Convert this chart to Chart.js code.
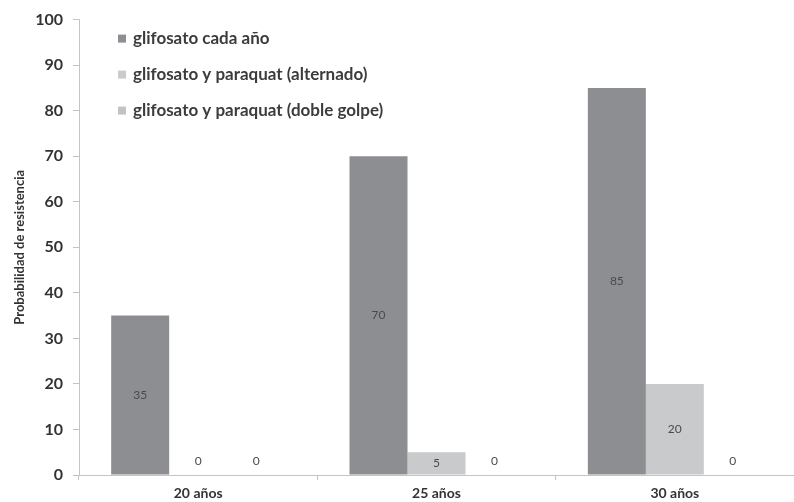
<!DOCTYPE html>
<html>
<head>
<meta charset="utf-8">
<script src="https://cdn.jsdelivr.net/npm/chart.js@4.4.1/dist/chart.umd.min.js"></script>
<style>
  html, body { margin: 0; padding: 0; background: #fff; overflow: hidden; }
  #wrap { width: 794px; height: 502px; }
</style>
</head>
<body>
<div id="wrap"><canvas id="c" width="794" height="502"></canvas></div>
<script>
// Categories and series
const categories = ['20 años', '25 años', '30 años'];
const seriesNames = [
  'glifosato cada año',
  'glifosato y paraquat (alternado)',
  'glifosato y paraquat (doble golpe)'
];
const cadaAno = [35, 70, 85];
const alternado = [0, 5, 20];
const dobleGolpe = [0, 0, 0];
const yTicks = [0, 10, 20, 30, 40, 50, 60, 70, 80, 90, 100];

const barColors = ['#8d8e92', '#c9cacc', '#c2c3c5'];
const FONT = 'Lato, "Open Sans", sans-serif';

// Value labels centred in each bar; zero values sit just above the axis
const valueLabels = {
  id: 'valueLabels',
  afterDatasetsDraw(chart) {
    const ctx = chart.ctx;
    ctx.save();
    ctx.font = '12px ' + FONT;
    ctx.fillStyle = '#4a4a4a';
    ctx.textAlign = 'center';
    ctx.textBaseline = 'middle';
    chart.data.datasets.forEach((ds, i) => {
      chart.getDatasetMeta(i).data.forEach((bar, j) => {
        const v = ds.data[j];
        const y = v === 0 ? bar.base - 14 : (bar.y + bar.base) / 2;
        ctx.fillText(String(v), bar.x, y);
      });
    });
    ctx.restore();
  }
};

// Legend drawn inside the plot area, stacked vertically
const innerLegend = {
  id: 'innerLegend',
  afterDraw(chart) {
    const ctx = chart.ctx;
    const x0 = chart.chartArea.left + 39;
    const y0 = chart.chartArea.top + 19;
    ctx.save();
    ctx.font = 'bold 17px ' + FONT;
    ctx.textBaseline = 'middle';
    ctx.textAlign = 'left';
    chart.data.datasets.forEach((ds, i) => {
      const y = y0 + i * 36;
      ctx.fillStyle = ds.backgroundColor;
      ctx.fillRect(x0, y - 4, 8, 8);
      ctx.fillStyle = '#3c3c3c';
      ctx.fillText(ds.label, x0 + 15, y);
    });
    ctx.restore();
  }
};

new Chart(document.getElementById('c'), {
  type: 'bar',
  data: {
    labels: categories,
    datasets: [
      { label: seriesNames[0], data: cadaAno, backgroundColor: barColors[0] },
      { label: seriesNames[1], data: alternado, backgroundColor: barColors[1] },
      { label: seriesNames[2], data: dobleGolpe, backgroundColor: barColors[2] }
    ]
  },
  options: {
    responsive: false,
    animation: false,
    layout: { padding: { top: 17, right: 0, left: 0, bottom: 0 } },
    datasets: { bar: { categoryPercentage: 0.73, barPercentage: 1.0, borderWidth: 0 } },
    plugins: {
      legend: { display: false },
      tooltip: { enabled: false }
    },
    scales: {
      x: {
        offset: true,
        grid: { offset: true, drawOnChartArea: false, tickLength: 5, color: '#c4c4c4' },
        border: { color: '#c4c4c4', width: 1 },
        ticks: { color: '#333', font: { family: FONT, size: 14, weight: 'bold' }, padding: 5 },
        afterFit(s) { s.height = 27; }
      },
      y: {
        min: 0,
        max: 100,
        afterBuildTicks(s) { s.ticks = yTicks.map(v => ({ value: v })); },
        grid: { drawOnChartArea: false, tickLength: 6, color: '#c4c4c4' },
        border: { color: '#c4c4c4', width: 1 },
        ticks: { color: '#333', font: { family: FONT, size: 16, weight: 'bold' }, padding: 10 },
        title: {
          display: true,
          text: 'Probabilidad de resistencia',
          color: '#333',
          font: { family: FONT, size: 13, weight: 'bold' },
          padding: { top: 12, bottom: 4 }
        },
        afterFit(s) { s.width = 79; }
      }
    }
  },
  plugins: [valueLabels, innerLegend]
});
</script>
</body>
</html>
